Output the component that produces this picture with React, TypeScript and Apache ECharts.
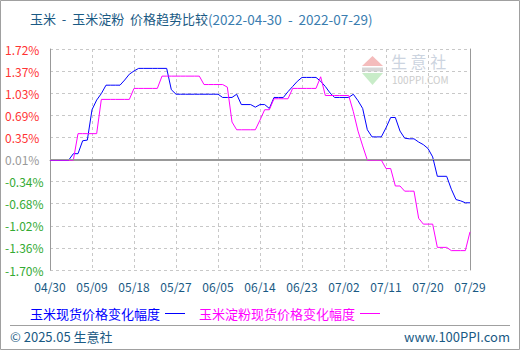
import React, { useEffect, useRef } from "react";
import * as echarts from "echarts";

const FONT = '"Noto Sans CJK SC", "Noto Sans", sans-serif';

const startDate = "2022-04-30";
const dayCount = 91;

const yTickLabels = [
  "-1.70%", "-1.36%", "-1.02%", "-0.68%", "-0.34%", "0.01%",
  "0.35%", "0.69%", "1.03%", "1.37%", "1.72%",
];

const cornSeriesName = "玉米现货价格变化幅度";
const starchSeriesName = "玉米淀粉现货价格变化幅度";

const cornValues = [
  0, 0, 0, 0, 0, 0.10, 0.10, 0.30, 0.31, 0.78,
  0.93, 1.03, 1.16, 1.16, 1.16, 1.16, 1.24, 1.33, 1.38, 1.42,
  1.42, 1.42, 1.42, 1.42, 1.42, 1.42, 1.09, 1.02, 1.02, 1.02,
  1.02, 1.02, 1.02, 1.02, 1.02, 1.02, 1.02, 0.97, 0.97, 0.97,
  1.02, 0.86, 0.86, 0.86, 0.82, 0.86, 0.86, 0.80, 0.97, 0.97,
  0.97, 1.06, 1.14, 1.22, 1.28, 1.28, 1.28, 1.28, 1.22, 1.14,
  1.04, 0.97, 0.97, 0.97, 0.97, 1.02, 0.92, 0.80, 0.47, 0.36,
  0.36, 0.36, 0.50, 0.66, 0.66, 0.45, 0.34, 0.33, 0.33, 0.28,
  0.24, 0.18, 0.05, -0.25, -0.25, -0.25, -0.45, -0.61, -0.63, -0.66,
  -0.66,
];

const starchValues = [
  0, 0, 0, 0, 0, 0, 0.41, 0.41, 0.41, 0.41,
  0.41, 0.94, 0.94, 0.94, 0.94, 0.94, 0.94, 0.94, 1.11, 1.11,
  1.11, 1.11, 1.11, 1.11, 1.30, 1.30, 1.30, 1.30, 1.30, 1.30,
  1.30, 1.30, 1.30, 1.17, 1.17, 1.17, 1.17, 1.17, 1.13, 0.59,
  0.47, 0.47, 0.47, 0.47, 0.47, 0.62, 0.78, 0.78, 0.95, 0.95,
  0.95, 0.95, 1.11, 1.11, 1.11, 1.11, 1.11, 1.11, 1.29, 1.00,
  1.00, 1.00, 1.00, 1.00, 1.00, 0.75, 0.45, 0.22, 0, 0,
  0, 0, -0.13, -0.13, -0.40, -0.40, -0.48, -0.48, -0.48, -0.90,
  -0.99, -0.99, -0.99, -1.35, -1.35, -1.35, -1.40, -1.40, -1.40, -1.40,
  -1.11,
];

function buildDates(): string[] {
  const out: string[] = [];
  const d0 = new Date(startDate + "T00:00:00Z");
  for (let i = 0; i < dayCount; i++) {
    const d = new Date(d0.getTime() + i * 86400000);
    const mm = String(d.getUTCMonth() + 1).padStart(2, "0");
    const dd = String(d.getUTCDate()).padStart(2, "0");
    out.push(mm + "/" + dd);
  }
  return out;
}

const categories = buildDates();

export default function App() {
  const ref = useRef<HTMLDivElement>(null);
  useEffect(() => {
    if (!ref.current) return;
    document.body.style.margin = "0";
    const chart = echarts.init(ref.current, undefined, { renderer: "svg" });
    const textColor = "#1a5a84";
    chart.setOption({
      animation: false,
      backgroundColor: "#ffffff",
      title: {
        left: 25,
        top: 7,
        text: "{a|玉米  -  玉米淀粉  价格趋势比较}{b|(2022-04-30  -  2022-07-29)}",
        textStyle: {
          fontWeight: "normal",
          rich: {
            a: { fontSize: 13, color: "#1a5a84", fontFamily: FONT, fontWeight: "normal" },
            b: { fontSize: 13.5, color: "#3a7db0", fontFamily: FONT, fontWeight: "normal" },
          },
        },
      },
      legend: {
        left: 25,
        top: 302,
        align: "right",
        itemWidth: 20,
        itemHeight: 1,
        itemGap: 14,
        icon: "rect",
        selectedMode: false,
        textStyle: { fontSize: 13, fontFamily: FONT },
        data: [
          { name: cornSeriesName, textStyle: { color: "#0000ff" } },
          { name: starchSeriesName, textStyle: { color: "#ff00ff" } },
        ],
      },
      grid: { left: 50, right: 50, top: 49, height: 221, containLabel: false },
      xAxis: {
        type: "category",
        data: categories,
        boundaryGap: false,
        axisLine: { show: true, lineStyle: { color: "#999999", width: 1 } },
        axisTick: { show: false },
        axisLabel: {
          interval: 8,
          margin: 10,
          color: textColor,
          fontSize: 12,
          fontFamily: FONT,
          showMaxLabel: true,
        },
        splitLine: {
          show: true,
          interval: 8,
          lineStyle: { color: "#c8c8c8", type: [3, 3], width: 1 },
        },
      },
      yAxis: [
        {
          type: "value",
          min: -1.7,
          max: 1.72,
          position: "right",
          axisLine: { show: true, lineStyle: { color: "#999999", width: 1 } },
          axisTick: { show: false },
          axisLabel: { show: false },
          splitLine: { show: false },
        },
        {
          type: "value",
          min: 0,
          max: 10,
          interval: 1,
          position: "left",
          axisLine: { show: true, lineStyle: { color: "#999999", width: 1 } },
          axisTick: { show: false },
          axisLabel: {
            align: "left",
            margin: 45,
            fontSize: 12,
            fontFamily: FONT,
            formatter: (v: number) => yTickLabels[Math.round(v)] ?? "",
            color: (v: any) => {
              const i = Math.round(Number(v));
              if (i > 5) return "#ff3333";
              if (i < 5) return "#33aa33";
              return "#999999";
            },
          },
          splitLine: {
            show: true,
            lineStyle: { color: "#c8c8c8", type: [3, 3], width: 1 },
          },
        },
      ],
      series: [
        {
          name: cornSeriesName,
          type: "line",
          yAxisIndex: 0,
          data: cornValues,
          symbol: "none",
          showSymbol: false,
          lineStyle: { color: "#0000ff", width: 1 },
          itemStyle: { color: "#0000ff" },
          markLine: {
            silent: true,
            symbol: "none",
            label: { show: false },
            lineStyle: { color: "#999999", type: "solid", width: 1 },
            data: [{ yAxis: 0.01 }],
          },
          z: 3,
        },
        {
          name: starchSeriesName,
          type: "line",
          yAxisIndex: 0,
          data: starchValues,
          symbol: "none",
          showSymbol: false,
          lineStyle: { color: "#ff00ff", width: 1 },
          itemStyle: { color: "#ff00ff" },
          z: 4,
        },
      ],
      graphic: [
        {
          type: "rect",
          shape: { x: 0.5, y: 0.5, width: 519, height: 349 },
          style: { fill: "none", stroke: "#a0a0a0", lineWidth: 1 },
          silent: true,
        },
        {
          type: "line",
          shape: { x1: 10, y1: 325.5, x2: 510, y2: 325.5 },
          style: { stroke: "#a0a0a0", lineWidth: 1 },
          silent: true,
        },
        {
          type: "text",
          x: 10,
          y: 336,
          style: {
            text: "© 2025.05 生意社",
            fill: textColor,
            font: "13px " + FONT,
            verticalAlign: "middle",
            align: "left",
          },
          silent: true,
        },
        {
          type: "text",
          x: 510,
          y: 336,
          style: {
            text: "www.100PPI.com",
            fill: textColor,
            font: "13px " + FONT,
            verticalAlign: "middle",
            align: "right",
          },
          silent: true,
        },
        {
          type: "group",
          silent: true,
          z: 1,
          children: [
            {
              type: "polygon",
              shape: { points: [[362, 66], [383, 66], [372.5, 56]] },
              style: { fill: "#f4bcbc" },
            },
            {
              type: "rect",
              shape: { x: 362, y: 67.5, width: 21, height: 4 },
              style: { fill: "#d6d6d6" },
            },
            {
              type: "polygon",
              shape: { points: [[362, 73], [383, 73], [372.5, 85]] },
              style: { fill: "#c8ecc8" },
            },
            {
              type: "text",
              x: 391,
              y: 61,
              style: {
                text: "生 意 社",
                fill: "#ccd4e0",
                font: "16px " + FONT,
                lineHeight: 16,
                verticalAlign: "middle",
                align: "left",
              },
            },
            {
              type: "text",
              x: 392,
              y: 79,
              style: {
                text: "100PPI.COM",
                fill: "#cccccc",
                font: "10px " + FONT,
                lineHeight: 10,
                verticalAlign: "middle",
                align: "left",
              },
            },
          ],
        },
      ],
    });
    return () => chart.dispose();
  }, []);
  return <div ref={ref} style={{ width: 520, height: 350 }} />;
}
